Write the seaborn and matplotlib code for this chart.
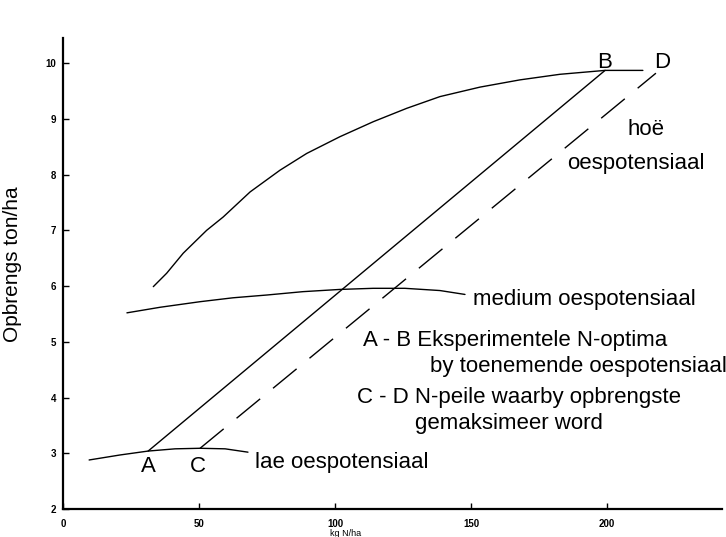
import matplotlib
matplotlib.use("Agg")
import matplotlib.pyplot as plt
import seaborn as sns
import pandas as pd

# --- data ---
high_x = [33.2, 38.1, 44.2, 52.8, 58.9, 68.8, 79.8, 89.6, 101.8, 114.1, 126.4,
          138.6, 153.3, 168.0, 182.7, 199.3, 213.2]
high_y = [5.99, 6.23, 6.59, 7.00, 7.24, 7.69, 8.08, 8.38, 8.68, 8.95, 9.19,
          9.40, 9.57, 9.70, 9.80, 9.87, 9.87]

medium_x = [23.5, 35.7, 50.4, 62.5, 75.0, 88.2, 101.8, 114.0, 125.7, 138.6, 147.8]
medium_y = [5.52, 5.62, 5.72, 5.79, 5.84, 5.90, 5.94, 5.96, 5.96, 5.92, 5.85]

low_x = [9.6, 21.0, 31.3, 41.2, 50.4, 59.6, 68.0]
low_y = [2.88, 2.97, 3.04, 3.08, 3.09, 3.08, 3.02]

ab_x = [31.3, 199.3]
ab_y = [3.04, 9.87]

cd_x = [50.4, 218.0]
cd_y = [3.09, 9.82]

xticks = [0, 50, 100, 150, 200]
yticks = [2, 3, 4, 5, 6, 7, 8, 9, 10]

sns.set_style("ticks")
plt.rcParams['font.family'] = ['Liberation Sans', 'DejaVu Sans']
plt.rcParams['text.color'] = 'black'
plt.rcParams['axes.labelcolor'] = 'black'
plt.rcParams['xtick.color'] = 'black'
plt.rcParams['ytick.color'] = 'black'

fig = plt.figure(figsize=(7.26, 5.37), dpi=100)
ax = fig.add_axes([0.0868, 0.0521, 0.9077, 0.877])

lw = 1.0
for xs, ys in [(high_x, high_y), (medium_x, medium_y), (low_x, low_y), (ab_x, ab_y)]:
    df = pd.DataFrame({"x": xs, "y": ys})
    sns.lineplot(data=df, x="x", y="y", ax=ax, color="black", linewidth=lw,
                 sort=False, estimator=None)
df = pd.DataFrame({"x": cd_x, "y": cd_y})
sns.lineplot(data=df, x="x", y="y", ax=ax, color="black", linewidth=lw,
             sort=False, estimator=None)
ax.lines[-1].set_dashes([22, 12])

ax.set_xlim(0, 242.3)
ax.set_ylim(2, 10.45)
ax.set_xticks(xticks)
ax.set_yticks(yticks)
ax.set_xticklabels([str(v) for v in xticks], fontsize=7, fontweight='bold')
ax.set_yticklabels([str(v) for v in yticks], fontsize=7, fontweight='bold')
ax.tick_params(direction='in', length=4, width=1, colors='black')
ax.tick_params(axis='x', pad=7)
ax.tick_params(axis='y', pad=5)
sns.despine(ax=ax)
for s in ['left', 'bottom']:
    ax.spines[s].set_linewidth(1.6)
    ax.spines[s].set_color('black')

ax.set_ylabel("Opbrengs ton/ha", fontsize=15, color='black')
ax.yaxis.set_label_coords(-0.062, 0.52)
ax.set_xlabel("kg N/ha", fontsize=6.5, color='black')
ax.xaxis.set_label_coords(0.428, -0.043)

fs = 16
ax.text(199.3, 9.91, "B", fontsize=fs, ha='center', va='baseline')
ax.text(220.2, 9.91, "D", fontsize=fs, ha='center', va='baseline')
ax.text(31.4, 2.66, "A", fontsize=fs, ha='center', va='baseline')
ax.text(49.6, 2.66, "C", fontsize=fs, ha='center', va='baseline')

ax.text(207.7, 8.71, "hoë", fontsize=fs, ha='left', va='baseline')
ax.text(185.3, 8.10, "oespotensiaal", fontsize=fs, ha='left', va='baseline')
ax.text(150.7, 5.66, "medium oespotensiaal", fontsize=fs, ha='left', va='baseline')
ax.text(110.3, 4.92, "A - B Eksperimentele N-optima", fontsize=fs, ha='left', va='baseline')
ax.text(134.9, 4.46, "by toenemende oespotensiaal", fontsize=fs, ha='left', va='baseline')
ax.text(108.1, 3.90, "C - D N-peile waarby opbrengste", fontsize=fs, ha='left', va='baseline')
ax.text(129.4, 3.43, "gemaksimeer word", fontsize=fs, ha='left', va='baseline')
ax.text(70.6, 2.74, "lae oespotensiaal", fontsize=fs, ha='left', va='baseline')

fig.savefig("out.png", dpi=100)
